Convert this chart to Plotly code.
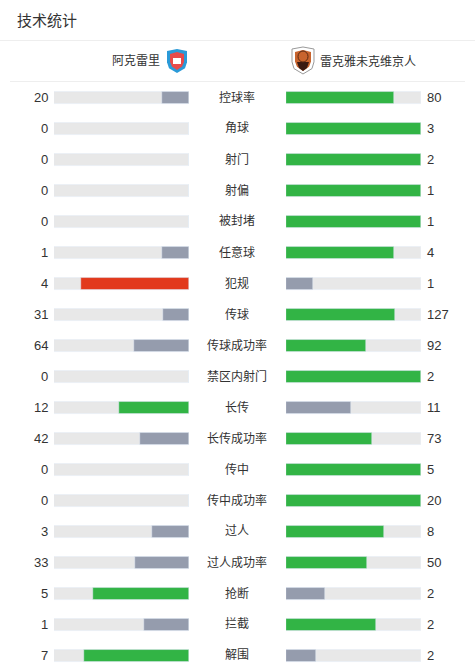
import plotly.graph_objects as go

W, H = 475, 671

title = "技术统计"
home_team = "阿克雷里"
away_team = "雷克雅未克维京人"

stats = ["控球率", "角球", "射门", "射偏", "被封堵", "任意球", "犯规", "传球", "传球成功率",
         "禁区内射门", "长传", "长传成功率", "传中", "传中成功率", "过人", "过人成功率",
         "抢断", "拦截", "解围"]
home = [20, 0, 0, 0, 0, 1, 4, 31, 64, 0, 12, 42, 0, 0, 3, 33, 5, 1, 7]
away = [80, 3, 2, 1, 1, 4, 1, 127, 92, 2, 11, 73, 5, 20, 8, 50, 2, 2, 2]
bad_stats = ["犯规"]

GREEN = "#32b445"
GREY = "#959cad"
RED = "#e2391c"
TRACK = "#e8e8e8"
TXT = "#333333"
FONT = "Liberation Sans, Noto Sans CJK SC, sans-serif"


def px(x):
    return x / W


def py(y):
    return 1 - y / H


home_share, away_share, home_col, away_col = [], [], [], []
for s, a, b in zip(stats, home, away):
    tot = a + b
    ha = a / tot if tot else 0
    hb = b / tot if tot else 0
    home_share.append(ha)
    away_share.append(hb)
    hi = RED if s in bad_stats else GREEN
    home_col.append(hi if a > b else GREY)
    away_col.append(hi if b > a else GREY)

n = len(stats)
row_h = 31
first_c = 97.3
bw = 12 / row_h

fig = go.Figure()
ones = [1] * n
fig.add_trace(go.Bar(y=stats, x=ones, orientation="h", marker_color=TRACK, width=bw,
                     xaxis="x", yaxis="y", hoverinfo="skip", showlegend=False))
fig.add_trace(go.Bar(y=stats, x=home_share, orientation="h", marker_color=home_col, width=bw,
                     xaxis="x", yaxis="y", showlegend=False))
fig.add_trace(go.Bar(y=stats, x=ones, orientation="h", marker_color=TRACK, width=bw,
                     xaxis="x2", yaxis="y", hoverinfo="skip", showlegend=False))
fig.add_trace(go.Bar(y=stats, x=away_share, orientation="h", marker_color=away_col, width=bw,
                     xaxis="x2", yaxis="y", showlegend=False))

ann = []
for s, a, b in zip(stats, home, away):
    ann.append(dict(x=px(50), xref="paper", y=s, yref="y", text=str(a), showarrow=False,
                    xanchor="right", yanchor="middle", font=dict(size=13, color=TXT, family=FONT)))
    ann.append(dict(x=px(425), xref="paper", y=s, yref="y", text=str(b), showarrow=False,
                    xanchor="left", yanchor="middle", font=dict(size=13, color=TXT, family=FONT)))
    ann.append(dict(x=px(237), xref="paper", y=s, yref="y", text=s, showarrow=False,
                    xanchor="center", yanchor="middle", font=dict(size=12, color=TXT, family=FONT)))

ann.append(dict(x=px(15), y=py(20.5), xref="paper", yref="paper", text=title, showarrow=False,
                xanchor="left", yanchor="middle", font=dict(size=15, color=TXT, family=FONT)))
ann.append(dict(x=px(162), y=py(61.5), xref="paper", yref="paper", text=home_team, showarrow=False,
                xanchor="right", yanchor="middle", font=dict(size=12, color=TXT, family=FONT)))
ann.append(dict(x=px(318), y=py(61.5), xref="paper", yref="paper", text=away_team, showarrow=False,
                xanchor="left", yanchor="middle", font=dict(size=12, color=TXT, family=FONT)))


def path(points):
    return "M " + " L ".join(f"{px(x):.5f},{py(y):.5f}" for x, y in points) + " Z"


def shield(x0, x1, y0, y1):
    xm = (x0 + x1) / 2
    return path([(x0, y0 + 2), (xm, y0), (x1, y0 + 2), (x1, y0 + (y1 - y0) * 0.55),
                 (x1 - 2, y0 + (y1 - y0) * 0.8), (xm, y1), (x0 + 2, y0 + (y1 - y0) * 0.8),
                 (x0, y0 + (y1 - y0) * 0.55)])


shapes = [
    dict(type="line", xref="paper", yref="paper", x0=0, x1=1, y0=py(40.5), y1=py(40.5),
         line=dict(color="#eeeeee", width=1)),
    dict(type="line", xref="paper", yref="paper", x0=px(10), x1=px(465), y0=py(81.5), y1=py(81.5),
         line=dict(color="#eeeeee", width=1)),
    # home logo
    dict(type="path", xref="paper", yref="paper", path=shield(167, 187, 49, 73),
         fillcolor="#2a9ad8", line=dict(width=0)),
    dict(type="path", xref="paper", yref="paper", path=shield(170, 184, 52, 70),
         fillcolor="#e84a4a", line=dict(width=0)),
    dict(type="rect", xref="paper", yref="paper", x0=px(173), x1=px(181), y0=py(64), y1=py(58),
         fillcolor="#ffffff", line=dict(width=0)),
    # away logo
    dict(type="path", xref="paper", yref="paper", path=shield(292, 314, 47, 74),
         fillcolor="#ffffff", line=dict(color="#9a9a9a", width=1)),
    dict(type="path", xref="paper", yref="paper", path=shield(295, 311, 50, 71),
         fillcolor="#c8642e", line=dict(width=0)),
    dict(type="path", xref="paper", yref="paper", path=path([(297, 62), (309, 62), (307, 68), (303, 71), (299, 68)]),
         fillcolor="#3a1a12", line=dict(width=0)),
    dict(type="circle", xref="paper", yref="paper", x0=px(298), x1=px(308), y0=py(62), y1=py(51),
         fillcolor="#c8642e", line=dict(color="#5a2a15", width=1)),
]

top = first_c - row_h / 2
bottom = top + n * row_h

fig.update_layout(
    width=W, height=H,
    margin=dict(l=0, r=0, t=0, b=0),
    paper_bgcolor="white", plot_bgcolor="white",
    barmode="overlay",
    bargap=0,
    xaxis=dict(domain=[px(54), px(189)], range=[1, 0], visible=False, fixedrange=True),
    xaxis2=dict(domain=[px(286), px(421)], range=[0, 1], visible=False, fixedrange=True),
    yaxis=dict(domain=[py(bottom), py(top)], type="category", categoryorder="array",
               categoryarray=stats, range=[n - 0.5, -0.5], visible=False, fixedrange=True),
    annotations=ann,
    shapes=shapes,
    font=dict(family=FONT),
)

fig.write_html("out.html", config={"displayModeBar": False},
               post_script="document.body.style.margin='0';document.body.style.overflow='hidden';")
